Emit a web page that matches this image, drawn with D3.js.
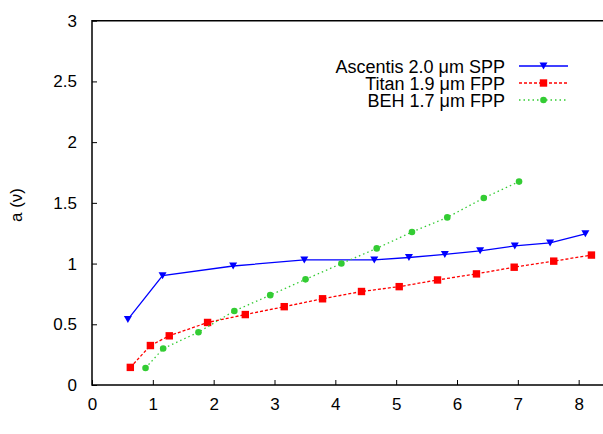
<!DOCTYPE html>
<html>
<head>
<meta charset="utf-8">
<script src="https://cdn.jsdelivr.net/npm/d3@7"></script>
<style>
  body { margin: 0; background: #fff; }
  svg text { font-family: "Liberation Sans", Arial, sans-serif; fill: #000; }
</style>
</head>
<body>
<svg id="chart" width="603" height="434"></svg>
<script>
// data
const ascentisX = [0.59, 1.16, 2.32, 3.49, 4.64, 5.21, 5.80, 6.38, 6.95, 7.53, 8.11];
const ascentisY = [0.54, 0.90, 0.98, 1.03, 1.03, 1.05, 1.075, 1.105, 1.145, 1.17, 1.245];
const titanX = [0.63, 0.96, 1.27, 1.90, 2.52, 3.16, 3.79, 4.43, 5.05, 5.68, 6.32, 6.94, 7.59, 8.21];
const titanY = [0.145, 0.325, 0.405, 0.515, 0.58, 0.645, 0.71, 0.77, 0.81, 0.865, 0.915, 0.97, 1.02, 1.07];
const behX = [0.88, 1.17, 1.75, 2.34, 2.93, 3.51, 4.10, 4.68, 5.26, 5.84, 6.44, 7.02];
const behY = [0.14, 0.30, 0.435, 0.61, 0.74, 0.87, 1.00, 1.125, 1.26, 1.38, 1.54, 1.675];
const xTicks = [0, 1, 2, 3, 4, 5, 6, 7, 8];
const yTicks = [0, 0.5, 1, 1.5, 2, 2.5, 3];

const series = [
  {name: "Ascentis 2.0 \u03bcm SPP", xs: ascentisX, ys: ascentisY, color: "#0000ff", dash: null, mark: "tri"},
  {name: "Titan 1.9 \u03bcm FPP", xs: titanX, ys: titanY, color: "#ff0000", dash: "3,2", mark: "sq"},
  {name: "BEH 1.7 \u03bcm FPP", xs: behX, ys: behY, color: "#33cc33", dash: "1.5,3", mark: "dot"}
];

const svg = d3.select("#chart");
const plotL = 92, plotT = 20.7, plotB = 385, plotR = 603;

const x = d3.scaleLinear().domain([0, 8.4]).range([plotL, plotR]);
const y = d3.scaleLinear().domain([0, 3]).range([plotB, plotT]);

// frame (right side is outside the picture)
svg.append("path")
  .attr("d", `M${plotR + 2},${plotT}H${plotL}V${plotB}H${plotR + 2}`)
  .attr("fill", "none")
  .attr("stroke", "#000")
  .attr("stroke-width", 1.5);

// inward ticks
svg.append("g")
  .attr("transform", `translate(0,${plotB})`)
  .call(d3.axisBottom(x).tickValues(xTicks).tickSizeInner(-5).tickSizeOuter(0).tickPadding(13).tickFormat(d3.format("d")))
  .call(g => g.select(".domain").remove())
  .call(g => g.selectAll("line").attr("stroke", "#000"))
  .call(g => g.selectAll("text").attr("font-size", 17).attr("font-family", "Liberation Sans, Arial, sans-serif"));

svg.append("g")
  .attr("transform", `translate(${plotL},0)`)
  .call(d3.axisLeft(y).tickValues(yTicks).tickSizeInner(-5).tickSizeOuter(0).tickPadding(15).tickFormat(d => d))
  .call(g => g.select(".domain").remove())
  .call(g => g.selectAll("line").attr("stroke", "#000"))
  .call(g => g.selectAll("text").attr("font-size", 17).attr("font-family", "Liberation Sans, Arial, sans-serif"));

// axis titles
svg.append("text")
  .attr("x", 351).attr("y", 446)
  .attr("text-anchor", "middle")
  .attr("font-size", 18)
  .text("\u03bd");

svg.append("text")
  .attr("transform", "translate(22,205) rotate(-90)")
  .attr("text-anchor", "middle")
  .attr("font-size", 17)
  .text("a (\u03bd)");

const line = d3.line().x(d => x(d[0])).y(d => y(d[1]));

function drawMarker(g, kind, color) {
  if (kind === "tri") {
    g.append("path").attr("d", "M-4,-3.5L4,-3.5L0,3.5Z").attr("fill", color);
  } else if (kind === "sq") {
    g.append("rect").attr("x", -3.7).attr("y", -3.7).attr("width", 7.4).attr("height", 7.4).attr("fill", color);
  } else {
    g.append("circle").attr("r", 3.3).attr("fill", color);
  }
}

series.forEach(s => {
  const pts = s.xs.map((v, i) => [v, s.ys[i]]);
  svg.append("path")
    .datum(pts)
    .attr("d", line)
    .attr("fill", "none")
    .attr("stroke", s.color)
    .attr("stroke-width", 1.3)
    .attr("stroke-dasharray", s.dash);
  svg.append("g").selectAll("g")
    .data(pts)
    .join("g")
    .attr("transform", d => `translate(${x(d[0])},${y(d[1])})`)
    .each(function() { drawMarker(d3.select(this), s.mark, s.color); });
});

// legend
const legend = svg.append("g");
series.forEach((s, i) => {
  const ly = 66 + i * 17;
  legend.append("text")
    .attr("x", 505).attr("y", ly + 6.5)
    .attr("text-anchor", "end")
    .attr("font-size", 18)
    .text(s.name);
  legend.append("line")
    .attr("x1", 519).attr("x2", 568)
    .attr("y1", ly).attr("y2", ly)
    .attr("stroke", s.color)
    .attr("stroke-width", 1.3)
    .attr("stroke-dasharray", s.dash);
  const m = legend.append("g").attr("transform", `translate(543.5,${ly})`);
  drawMarker(m, s.mark, s.color);
});
</script>
</body>
</html>
